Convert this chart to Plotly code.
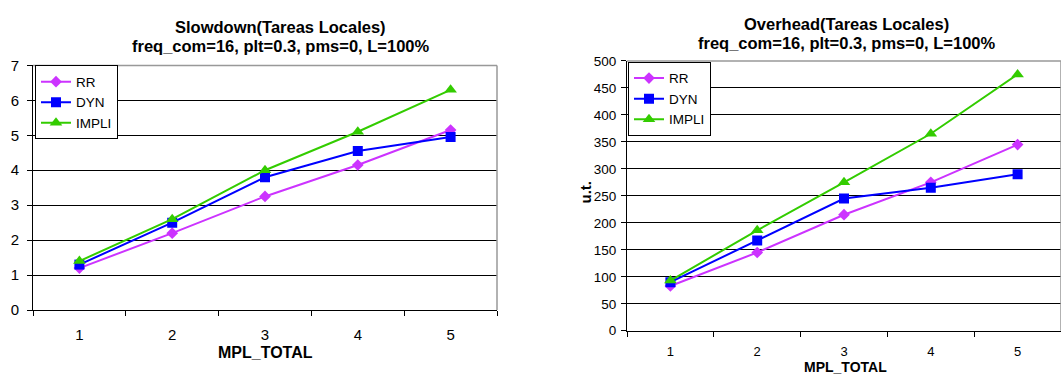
import plotly.graph_objects as go

categories = ["1", "2", "3", "4", "5"]
series_names = ["RR", "DYN", "IMPLI"]

slowdown_rr = [1.2, 2.2, 3.25, 4.15, 5.15]
slowdown_dyn = [1.3, 2.5, 3.8, 4.55, 4.95]
slowdown_impli = [1.4, 2.6, 4.0, 5.1, 6.3]

overhead_rr = [83, 145, 215, 275, 345]
overhead_dyn = [90, 167, 245, 265, 290]
overhead_impli = [93, 186, 275, 365, 475]

colors = ["#CC33FF", "#0000FF", "#33CC00"]
symbols = ["diamond", "square", "triangle-up"]
msizes = [9, 10, 11]

W, H = 1061, 383
FONT = "Liberation Sans, Arial, sans-serif"

def px_x(v):
    return v / W

def px_y(v):
    return 1 - v / H

fig = go.Figure()

left = [slowdown_rr, slowdown_dyn, slowdown_impli]
right = [overhead_rr, overhead_dyn, overhead_impli]
for i, name in enumerate(series_names):
    fig.add_trace(go.Scatter(
        x=categories, y=left[i], name=name, mode="lines+markers",
        line=dict(color=colors[i], width=2),
        marker=dict(symbol=symbols[i], size=msizes[i], color=colors[i]),
        xaxis="x", yaxis="y", legend="legend"))
for i, name in enumerate(series_names):
    fig.add_trace(go.Scatter(
        x=categories, y=right[i], name=name, mode="lines+markers",
        line=dict(color=colors[i], width=2),
        marker=dict(symbol=symbols[i], size=msizes[i], color=colors[i]),
        xaxis="x2", yaxis="y2", legend="legend2"))

L_x0, L_x1, L_y0, L_y1 = 33, 497, 59, 315
R_x0, R_x1, R_y0, R_y1 = 627, 1061, 54.3, 336.7

common_x = dict(type="category", tickson="boundaries", ticks="outside", ticklen=5,
                tickcolor="black", showline=True, linecolor="black", linewidth=1,
                showgrid=False, zeroline=False, range=[-0.5, 4.5])
common_y = dict(showgrid=True, gridcolor="black", gridwidth=1, showline=True,
                linecolor="black", linewidth=1, ticks="outside", ticklen=5,
                tickcolor="black", zeroline=False)

fig.update_layout(
    width=W, height=H,
    margin=dict(l=0, r=0, t=0, b=0),
    paper_bgcolor="white", plot_bgcolor="white",
    font=dict(family=FONT, color="black"),
    xaxis=dict(domain=[px_x(L_x0), px_x(L_x1)], anchor="y",
               tickfont=dict(size=15), ticklabelstandoff=11, **common_x),
    yaxis=dict(domain=[px_y(L_y1), px_y(L_y0)], anchor="x", range=[0, 7],
               dtick=1, tickfont=dict(size=15), ticklabelstandoff=5, **common_y),
    xaxis2=dict(domain=[px_x(R_x0), px_x(R_x1)], anchor="y2",
                tickfont=dict(size=13), ticklabelstandoff=9, **common_x),
    yaxis2=dict(domain=[px_y(R_y1), px_y(R_y0)], anchor="x2", range=[0, 500],
                dtick=50, tickfont=dict(size=13.5), ticklabelstandoff=2, **common_y),
    legend=dict(x=px_x(L_x0 + 2), y=px_y(L_y0), xanchor="left", yanchor="top",
                bgcolor="white", bordercolor="black", borderwidth=1,
                font=dict(size=13.5), tracegroupgap=0, itemwidth=30),
    legend2=dict(x=px_x(R_x0 + 1), y=px_y(R_y0 + 1), xanchor="left", yanchor="top",
                 bgcolor="white", bordercolor="black", borderwidth=1,
                 font=dict(size=13.5), tracegroupgap=0, itemwidth=30),
    showlegend=True,
)

shapes = []
for xr, yr in (("x domain", "y domain"), ("x2 domain", "y2 domain")):
    shapes.append(dict(type="line", xref=xr, yref=yr, x0=0, x1=1, y0=1, y1=1,
                       line=dict(color="#999999", width=1.5), layer="above"))
    shapes.append(dict(type="line", xref=xr, yref=yr, x0=1, x1=1, y0=0, y1=1,
                       line=dict(color="#999999", width=1.5), layer="above"))
fig.update_layout(shapes=shapes)

ann = [
    dict(text="<b>Slowdown(Tareas Locales)</b>", x=px_x(280), y=px_y(19), size=16.5),
    dict(text="<b>freq_com=16, plt=0.3, pms=0, L=100%</b>", x=px_x(280), y=px_y(39), size=16.5),
    dict(text="<b>MPL_TOTAL</b>", x=px_x(265), y=px_y(359), size=16),
    dict(text="<b>Overhead(Tareas Locales)</b>", x=px_x(846), y=px_y(16), size=16.5),
    dict(text="<b>freq_com=16, plt=0.3, pms=0, L=100%</b>", x=px_x(846), y=px_y(36), size=16.5),
    dict(text="<b>MPL_TOTAL</b>", x=px_x(845), y=px_y(375), size=14),
]
annotations = [dict(text=a["text"], x=a["x"], y=a["y"], xref="paper", yref="paper",
                    showarrow=False, xanchor="center", yanchor="middle",
                    font=dict(size=a["size"], family=FONT, color="black")) for a in ann]
annotations.append(dict(text="<b>u.t.</b>", x=px_x(585), y=px_y(192), xref="paper",
                        yref="paper", showarrow=False, textangle=-90,
                        xanchor="center", yanchor="middle",
                        font=dict(size=15, family=FONT, color="black")))
fig.update_layout(annotations=annotations)

fig.write_html("out.html")
